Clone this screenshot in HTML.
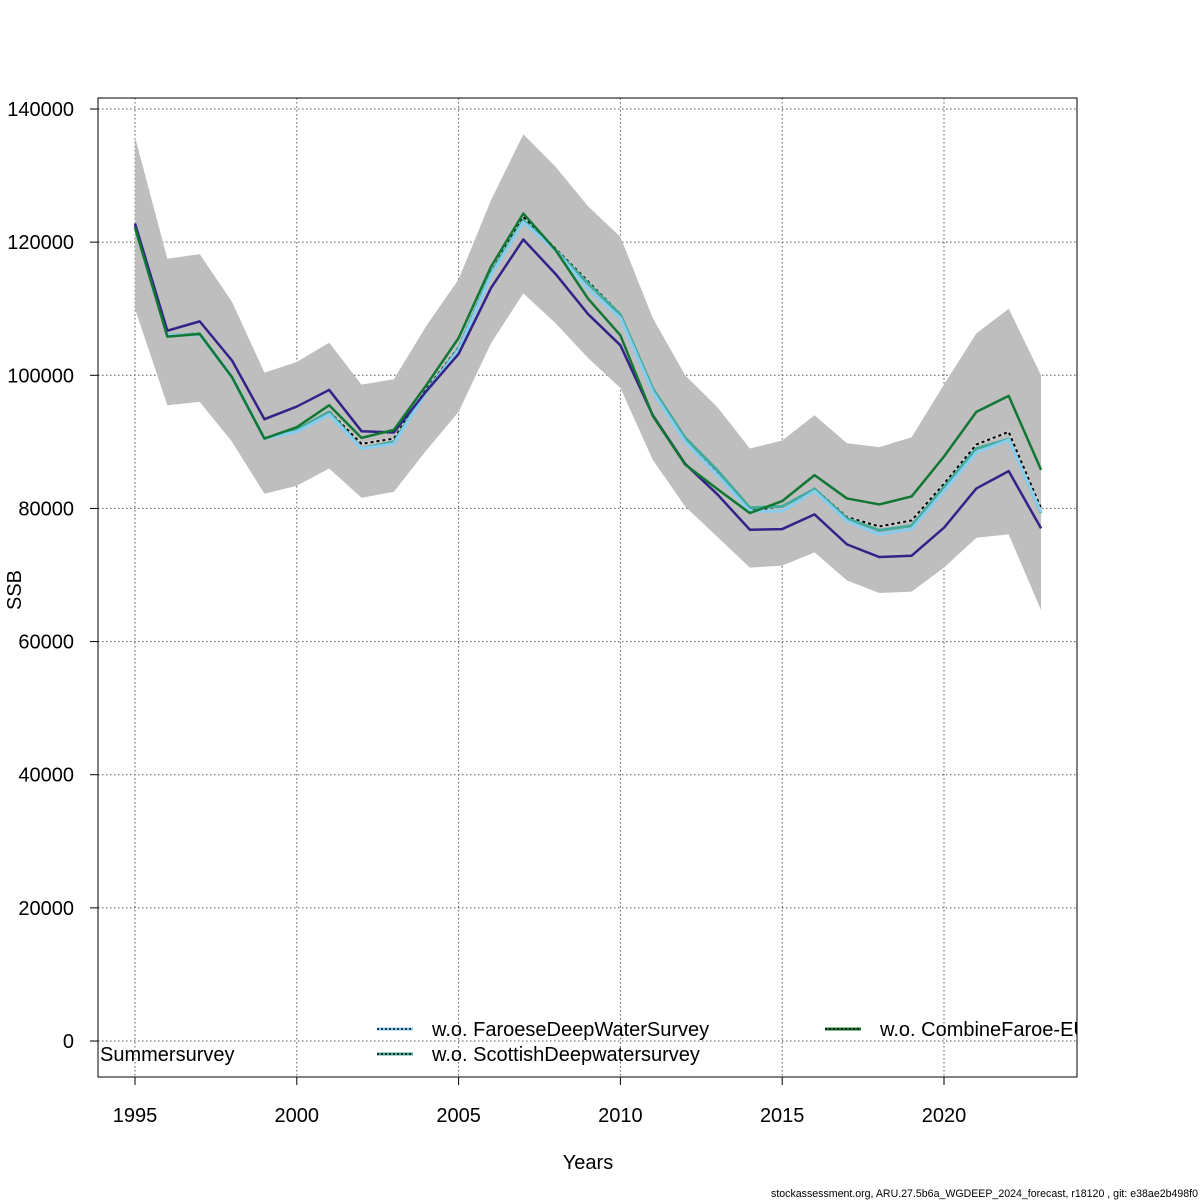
<!DOCTYPE html>
<html><head><meta charset="utf-8"><style>
html,body{margin:0;padding:0;background:#fff;}
svg{display:block;font-family:"Liberation Sans",Arial,sans-serif;}
</style></head><body>
<svg id="chart" width="1200" height="1200" viewBox="0 0 1200 1200" xmlns="http://www.w3.org/2000/svg">
<defs><clipPath id="plotclip"><rect x="98" y="98" width="979" height="979"/></clipPath></defs>
<rect x="0" y="0" width="1200" height="1200" fill="#fff"/>
<g id="grid"></g>
<g id="band" clip-path="url(#plotclip)"></g>
<g id="lines" clip-path="url(#plotclip)"></g>
<rect x="98" y="98" width="979" height="979" fill="none" stroke="#000" stroke-width="1"/>
<g id="axes"></g>
<g id="legend" clip-path="url(#plotclip)"></g>
<text x="588" y="1169" font-size="20" text-anchor="middle">Years</text>
<text x="21" y="590" font-size="20" text-anchor="middle" transform="rotate(-90 21 590)">SSB</text>
<text x="1198" y="1197" font-size="10.6" text-anchor="end">stockassessment.org, ARU.27.5b6a_WGDEEP_2024_forecast, r18120 , git: e38ae2b498f0</text>
</svg>
<script>
const years = [1995,1996,1997,1998,1999,2000,2001,2002,2003,2004,2005,2006,2007,2008,2009,2010,2011,2012,2013,2014,2015,2016,2017,2018,2019,2020,2021,2022,2023];
const upper = [135.8,117.5,118.2,111,100.4,102,104.9,98.6,99.4,107.4,114.4,126.3,136.2,131.3,125.4,120.8,108.6,100,95.2,89,90.2,94,89.8,89.2,90.7,98.6,106.3,110,100];
const lower = [110,95.5,96,90,82.2,83.4,86,81.6,82.5,88.7,94.5,104.8,112.3,107.8,102.6,98.1,87.3,80.3,75.7,71.1,71.4,73.4,69.2,67.3,67.5,71.1,75.6,76.1,64.7];
const basePurple = [122.8,106.7,108.1,102.2,93.4,95.3,97.8,91.6,91.4,97.6,103.2,113.1,120.4,115.2,109.2,104.5,94,86.7,82.1,76.8,76.9,79.1,74.6,72.7,72.9,77.1,83,85.6,77];
const woCombine = [122.2,105.8,106.2,99.7,90.5,92.2,95.5,90.6,91.8,98.5,105.6,116.3,124.3,118.8,111.5,106,93.9,86.6,82.9,79.3,81.1,85,81.5,80.6,81.8,87.8,94.5,96.9,85.8];
const baseRun = [122.5,106,106.3,99.8,90.6,91.8,94.6,89.7,90.5,97.9,104.2,115.5,123.8,119,114.1,109.2,97.5,90,85.5,79.7,80.3,83,78.7,77.3,78.2,83.7,89.6,91.5,80];
const woFaroese = [122.3,106,106.1,99.7,90.5,91.5,94.1,89,89.7,97.5,103.8,115,123,118.7,113,108.6,97.5,90,85,79.6,79.6,82.6,78.1,76.1,76.9,82.6,88.4,90.3,79.4];
const woScottish = [122.3,106,106.2,99.7,90.5,91.8,94.5,89,90,97.6,104,115.3,123.3,118.8,113.8,109.1,98,90.6,85.7,80.1,80.3,82.9,78.5,76.7,77.4,83.2,89,90.4,79.3];
const yTicks = [0,20000,40000,60000,80000,100000,120000,140000];
const xTicks = [1995,2000,2005,2010,2015,2020];

const NS="http://www.w3.org/2000/svg";
const xs = y => 135 + (y-1995)*(944-135)/25;
const ys = v => 1041 - v*1000*(1041-109)/140000;
function mk(tag, attrs, parent){const e=document.createElementNS(NS,tag);for(const k in attrs)e.setAttribute(k,attrs[k]);parent.appendChild(e);return e;}
const grid=document.getElementById('grid'), axes=document.getElementById('axes');
yTicks.forEach(t=>{
  const yy=ys(t/1000);
  const g=mk('line',{x1:98,x2:1077,y1:yy,y2:yy,stroke:'#555','stroke-dasharray':'1.5,2.5','stroke-width':1},grid);
  
  
  const tk=mk('line',{x1:90,x2:98,y1:yy,y2:yy,stroke:'#000'},axes);
  
  
  const tx=mk('text',{x:74,y:yy+7,'font-size':20,'text-anchor':'end'},axes);
  tx.textContent=t;
  
  
});
xTicks.forEach(t=>{
  const xx=xs(t);
  const g=mk('line',{x1:xx,x2:xx,y1:98,y2:1077,stroke:'#555','stroke-dasharray':'1.5,2.5','stroke-width':1},grid);
  
  
  const tk=mk('line',{x1:xx,x2:xx,y1:1077,y2:1085,stroke:'#000'},axes);
  
  
  const tx=mk('text',{x:xx,y:1122,'font-size':20,'text-anchor':'middle'},axes);
  tx.textContent=t;
  
  
});
let d=years.map((y,i)=>(i?'L':'M')+xs(y)+','+ys(upper[i])).join(' ');
for(let i=years.length-1;i>=0;i--) d+=' L'+xs(years[i])+','+ys(lower[i]);
const bp=mk('path',{d:d+' Z',fill:'#bebebe',stroke:'none'},document.getElementById('band'));


const L=document.getElementById('lines');
function pl(arr,color,w,dash,name){
  const p=mk('polyline',{points:years.map((y,i)=>xs(y)+','+ys(arr[i])).join(' '),fill:'none',stroke:color,'stroke-width':w,'stroke-linejoin':'round'},L);
  if(dash)p.setAttribute('stroke-dasharray',dash);
  
  
}
pl(baseRun,'#cccccc',3,null,'base-run-line');
pl(baseRun,'#000',2,'3,3','base-run-dashes');
pl(woScottish,'#44aa99',3,null,'wo-scottish-line');
pl(woFaroese,'#88ccee',3,null,'wo-faroese-line');
pl(basePurple,'#332288',2.5,null,'wo-summersurvey-line');
pl(woCombine,'#117733',2.5,null,'wo-combine-line');
const LG=document.getElementById('legend');
function le(x,y,color,label,name){
  const a=mk('line',{x1:x,x2:x+36,y1:y-7,y2:y-7,stroke:color,'stroke-width':3},LG);
  
  
  const b=mk('line',{x1:x,x2:x+36,y1:y-7,y2:y-7,stroke:'#000','stroke-width':1.5,'stroke-dasharray':'2,2'},LG);
  
  
  const t=mk('text',{x:x+55,y:y,'font-size':20},LG);
  t.textContent=label;
  
  
}
le(377,1036,'#88ccee','w.o. FaroeseDeepWaterSurvey','legend-faroese');
le(377,1061,'#44aa99','w.o. ScottishDeepwatersurvey','legend-scottish');
le(825,1036,'#117733','w.o. CombineFaroe-EU','legend-combine');
const st=mk('text',{x:100,y:1061,'font-size':20},LG);
st.textContent='Summersurvey';


</script>
</body></html>
